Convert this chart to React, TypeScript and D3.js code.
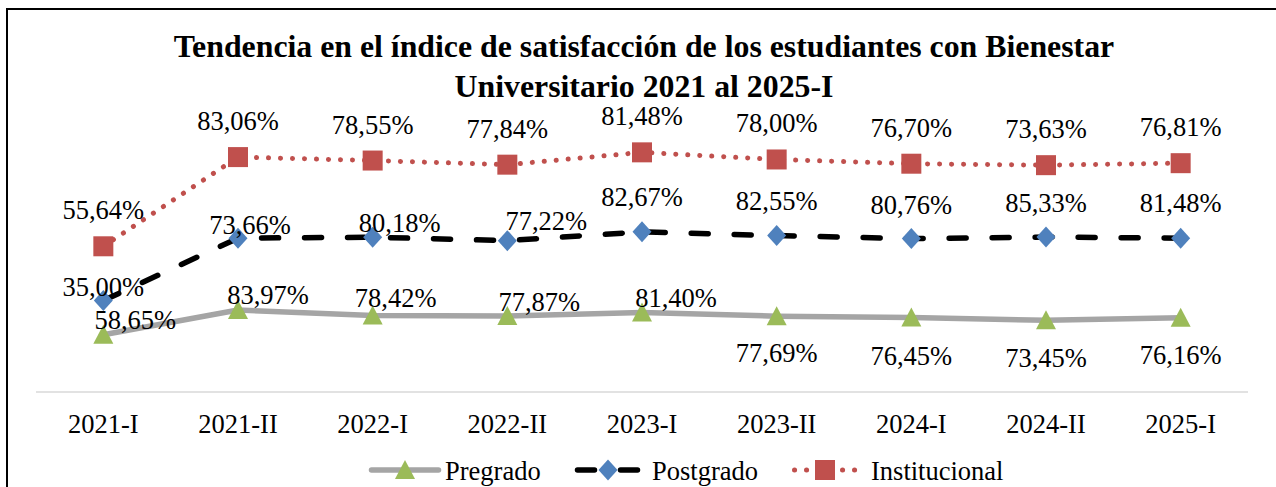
import React from "react";
import * as d3 from "d3";

const categories = ["2021-I", "2021-II", "2022-I", "2022-II", "2023-I", "2023-II", "2024-I", "2024-II", "2025-I"];
const seriesNames = ["Pregrado", "Postgrado", "Institucional"];
const pregrado = [58.65, 83.97, 78.42, 77.87, 81.4, 77.69, 76.45, 73.45, 76.16];
const postgrado = [35.0, 73.66, 80.18, 77.22, 82.67, 82.55, 80.76, 85.33, 81.48];
const institucional = [55.64, 83.06, 78.55, 77.84, 81.48, 78.0, 76.7, 73.63, 76.81];
const titleLines = ["Tendencia en el índice de satisfacción de los estudiantes con Bienestar", "Universitario 2021 al 2025-I"];

// layout / style constants
const W = 1276;
const H = 487;
const FONT = "'Times New Roman', 'Liberation Serif', serif";
const styles: Record<string, any> = {
  Pregrado: { stroke: "#A5A5A5", width: 5.5, dash: null, cap: "round", marker: "triangle", fill: "#9BBB59" },
  Postgrado: { stroke: "#000000", width: 5.5, dash: "17 26", cap: "round", marker: "diamond", fill: "#4F81BD" },
  Institucional: { stroke: "#C0504D", width: 5, dash: "0.1 11.9", cap: "round", marker: "square", fill: "#C0504D" },
};
const labelDx: Record<string, number[]> = {
  Pregrado: [32, 30, 23, 32, 34, 0, 0, 0, 0],
  Postgrado: [0, 12, 27, 39, 0, 0, 0, 0, 0],
  Institucional: [0, 0, 0, 0, 0, 0, 0, 0, 0],
};
const labelDy: Record<string, number[]> = {
  Pregrado: [-14, -14, -16, -13, -14, 38, 40, 39, 38],
  Postgrado: [-13, -12, -13, -19, -34, -34, -33, -33, -34],
  Institucional: [-35, -35, -35, -35, -35, -35, -35, -35, -35],
};
const legendX = [369, 575, 792];
const legendTextX = [445, 652, 871];

function markerPath(kind: string, x: number, y: number) {
  if (kind === "triangle") return `M${x},${y - 10}L${x + 10},${y + 9}L${x - 10},${y + 9}Z`;
  if (kind === "diamond") return `M${x},${y - 10.5}L${x + 9.5},${y}L${x},${y + 10.5}L${x - 9.5},${y}Z`;
  return `M${x - 10},${y - 10}H${x + 10}V${y + 10}H${x - 10}Z`;
}

const fmt = (v: number) => v.toFixed(2).replace(".", ",") + "%";

export default function App() {
  const rows = categories.map((c, i) => ({
    cat: c,
    Pregrado: pregrado[i],
    Postgrado: postgrado[i],
    Institucional: institucional[i],
  }));
  const stacked = d3.stack<any>().keys(seriesNames)(rows);

  const x = d3.scalePoint<string>().domain(categories).range([36, 1248]).padding(0.5);
  const y = d3.scaleLinear().domain([0, 250]).range([392, 148]);

  const line = d3
    .line<any>()
    .x((d) => x(d.data.cat) as number)
    .y((d) => y(d[1]));

  return (
    <svg width={W} height={H} style={{ position: "absolute", left: 0, top: 0, background: "#fff" }} fontFamily={FONT}>
      <rect x={0} y={0} width={W} height={H} fill="#fff" />
      <rect x={7} y={9} width={W + 20} height={H + 20} fill="none" stroke="#000" strokeWidth={2} />

      {titleLines.map((t, i) => (
        <text key={t} x={644} y={57 + i * 39.5} textAnchor="middle" fontSize={31.8} fontWeight="bold" fill="#000">
          {t}
        </text>
      ))}

      <line x1={36} x2={1248} y1={392} y2={392} stroke="#D9D9D9" strokeWidth={1.5} />
      {categories.map((c) => (
        <text key={c} x={x(c)} y={433} textAnchor="middle" fontSize={26.5} fill="#000">
          {c}
        </text>
      ))}

      {stacked.map((s) => {
        const st = styles[s.key];
        return (
          <path
            key={s.key + "-line"}
            d={line(s as any) || ""}
            fill="none"
            stroke={st.stroke}
            strokeWidth={st.width}
            strokeDasharray={st.dash || undefined}
            strokeLinecap={st.cap}
            strokeLinejoin="round"
          />
        );
      })}
      {stacked.map((s) => {
        const st = styles[s.key];
        return (
          <g key={s.key + "-markers"}>
            {s.map((d, i) => (
              <path key={i} d={markerPath(st.marker, x(d.data.cat) as number, y(d[1]))} fill={st.fill} />
            ))}
          </g>
        );
      })}
      {stacked.map((s) => (
        <g key={s.key + "-labels"}>
          {s.map((d, i) => (
            <text
              key={i}
              x={(x(d.data.cat) as number) + labelDx[s.key][i]}
              y={y(d[1]) + labelDy[s.key][i] + 8}
              textAnchor="middle"
              fontSize={26.5}
              fill="#000"
            >
              {fmt(d[1] - d[0])}
            </text>
          ))}
        </g>
      ))}

      {seriesNames.map((n, i) => {
        const st = styles[n];
        const x0 = legendX[i];
        const len = n === "Pregrado" ? 72 : 66;
        const ly = 470;
        return (
          <g key={n + "-legend"}>
            <line
              x1={x0 + 2.5}
              x2={x0 + len - 2.5}
              y1={ly}
              y2={ly}
              stroke={st.stroke}
              strokeWidth={st.width}
              strokeDasharray={st.dash || undefined}
              strokeLinecap={st.cap}
            />
            <path d={markerPath(st.marker, x0 + len / 2, ly)} fill={st.fill} />
            <text x={legendTextX[i]} y={480} fontSize={26.5} fill="#000">
              {n}
            </text>
          </g>
        );
      })}
    </svg>
  );
}
